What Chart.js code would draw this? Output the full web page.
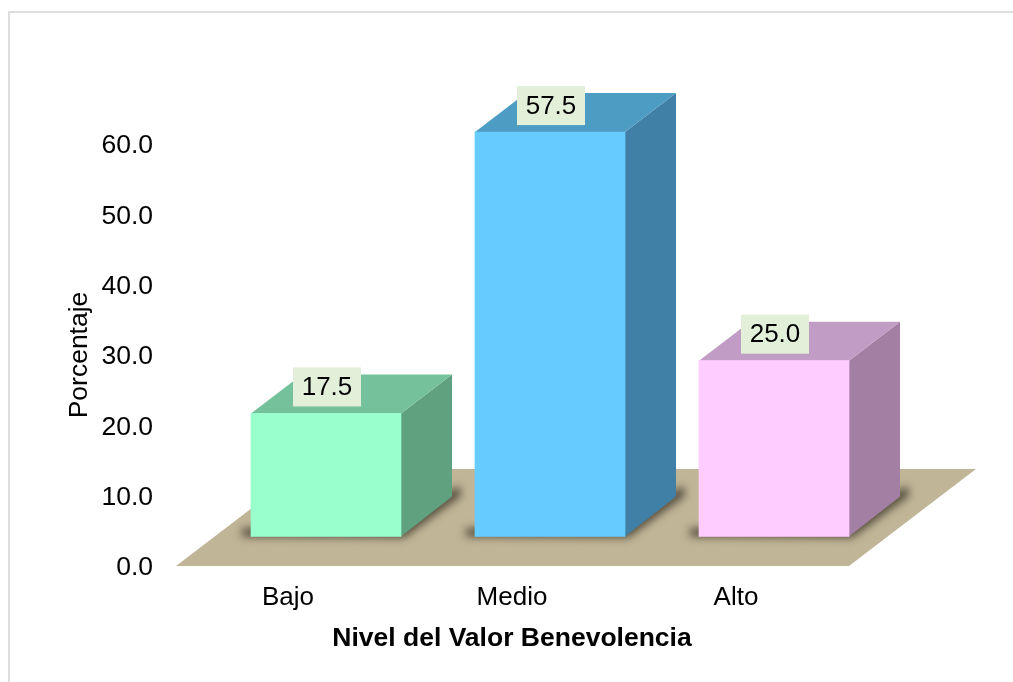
<!DOCTYPE html>
<html><head><meta charset="utf-8">
<style>html,body{margin:0;padding:0;background:#fff}canvas{display:block}</style>
<script src="https://cdn.jsdelivr.net/npm/chart.js@4"></script>
</head><body>
<div style="width:1013px;height:682px"><canvas id="c" width="1013" height="682"></canvas></div>
<script>
const categories = ['Bajo','Medio','Alto'];
const values = [17.5,57.5,25.0];
const tickStep = 10;
const frontColors = ['#99FFCC','#66CCFF','#FFCCFF'];
const topColors = ['#75C19B','#4D9CC4','#C19CC4'];
const sideColors = ['#60A280','#4180A6','#A37FA3'];
const floorColor = '#C0B597';
const depthX = 51, depthY = 39;

function poly(ctx, pts){
  ctx.beginPath();
  pts.forEach((p,i)=> i ? ctx.lineTo(p[0],p[1]) : ctx.moveTo(p[0],p[1]));
  ctx.closePath(); ctx.fill();
}
const scene = {
  id:'scene',
  beforeDraw(chart){
    const ctx = chart.ctx;
    ctx.save();
    ctx.fillStyle = '#DEDEDE';
    ctx.fillRect(8,11,1005,2);
    ctx.fillRect(8,11,2,671);
    ctx.restore();
  },
  beforeDatasetsDraw(chart){
    const ctx = chart.ctx, a = chart.chartArea, fb = a.bottom-2;
    ctx.save();
    ctx.fillStyle = floorColor;
    poly(ctx,[[a.left,fb],[a.right+1,fb],[a.right+128,fb-97],[a.left+127,fb-97]]);
    const bars = chart.getDatasetMeta(0).data;
    bars.forEach(b=>{
      const l=b.x-b.width/2, r=b.x+b.width/2, base=b.base;
      ctx.save();
      ctx.filter='blur(4.5px)';
      ctx.fillStyle='#4f4838';
      poly(ctx,[[l-9,base-8],[l-9,base],[r+3,base+1],[r+depthX+9,base-depthY-2],[r+depthX+7,base-depthY-12],[r,base-12]]);
      ctx.restore();
    });
    bars.forEach((b,i)=>{
      const l=b.x-b.width/2, r=b.x+b.width/2, t=b.y, base=b.base;
      ctx.fillStyle=sideColors[i];
      poly(ctx,[[r,t],[r+depthX,t-depthY],[r+depthX,base-depthY-1],[r,base]]);
      ctx.fillStyle=topColors[i];
      poly(ctx,[[l,t],[l+depthX,t-depthY],[r+depthX,t-depthY],[r,t]]);
    });
    ctx.restore();
  },
  afterDatasetsDraw(chart){
    const ctx = chart.ctx;
    ctx.save();
    ctx.font='26px "Liberation Sans"';
    ctx.textAlign='center'; ctx.textBaseline='middle';
    chart.getDatasetMeta(0).data.forEach((b,i)=>{
      const cx=b.x+1, cy=b.y-26.5;
      ctx.fillStyle='#E2F0D9';
      ctx.fillRect(cx-34,cy-19.5,68,39);
      ctx.fillStyle='#000';
      ctx.fillText(values[i].toFixed(1),cx,cy+1);
    });
    ctx.restore();
  }
};
const barShift = 38/224, pxPerUnit = 422/60;
const yTopValue = 60+4/pxPerUnit, barBaseValue = -31.5/pxPerUnit, barTopValue = barBaseValue+426/pxPerUnit;
new Chart(document.getElementById('c'),{
  type:'bar',
  plugins:[scene],
  data:{datasets:[{
    data:values.map((v,i)=>({x:i,y:v})),
    backgroundColor:frontColors,
    borderWidth:0,
    barThickness:150,
    clip:false,
    xAxisID:'xBars', yAxisID:'yBars'
  }]},
  options:{
    responsive:false, animation:false,
    layout:{padding:{top:142,right:165,left:0,bottom:0}},
    plugins:{legend:{display:false},tooltip:{enabled:false}},
    scales:{
      x:{type:'category',labels:categories,position:'bottom',
        grid:{display:false,drawTicks:false},border:{display:false},
        ticks:{color:'#000',font:{family:'Liberation Sans',size:26},padding:14,maxRotation:0},
        title:{display:true,text:'Nivel del Valor Benevolencia',color:'#000',
          font:{family:'Liberation Sans',size:26.5,weight:'bold'},padding:{top:0,bottom:27}},
        afterFit(s){s.height=114;}
      },
      y:{type:'linear',position:'left',min:0,max:yTopValue,
        grid:{display:false,drawTicks:false},border:{display:false},
        ticks:{stepSize:tickStep,includeBounds:false,color:'#000',font:{family:'Liberation Sans',size:26.5},padding:23,
          callback:v=>v.toFixed(1)},
        title:{display:true,text:'Porcentaje',color:'#000',
          font:{family:'Liberation Sans',size:26.5},padding:{top:64,bottom:0}},
        afterFit(s){s.width=176;}
      },
      xBars:{type:'linear',display:false,offset:false,min:-0.5-barShift,max:2.5-barShift},
      yBars:{type:'linear',display:false,min:barBaseValue,max:barTopValue}
    }
  }
});
</script>
</body></html>
